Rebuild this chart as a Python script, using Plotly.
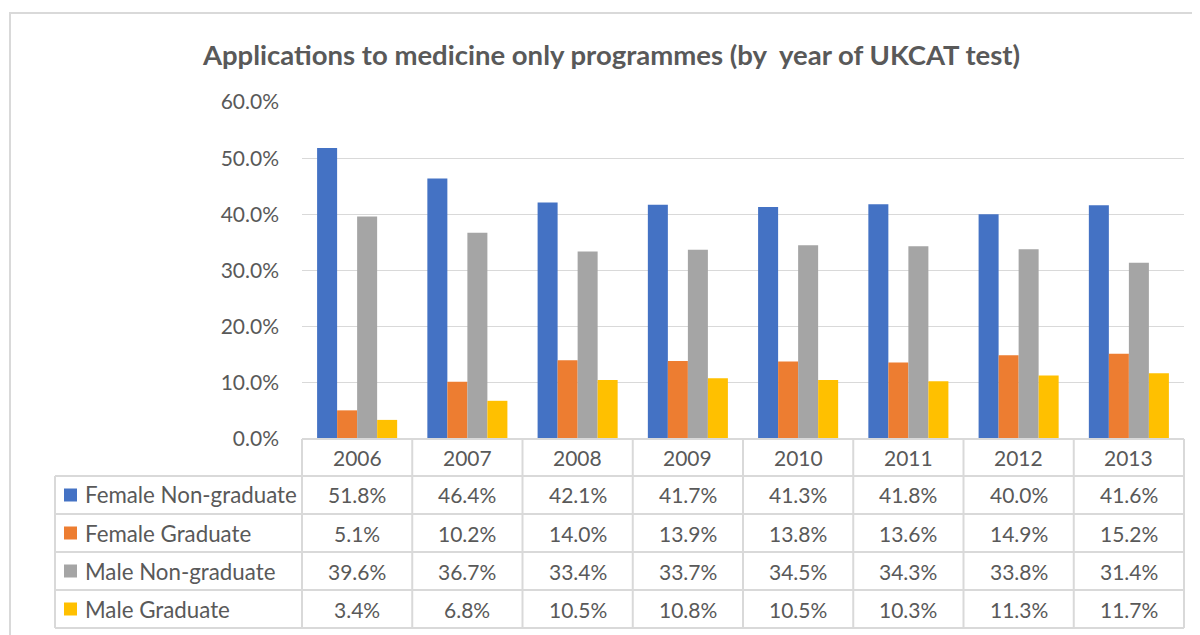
import plotly.graph_objects as go

years = ["2006", "2007", "2008", "2009", "2010", "2011", "2012", "2013"]
series_names = ["Female Non-graduate", "Female Graduate", "Male Non-graduate", "Male Graduate"]
female_nongrad = [51.8, 46.4, 42.1, 41.7, 41.3, 41.8, 40.0, 41.6]
female_grad = [5.1, 10.2, 14.0, 13.9, 13.8, 13.6, 14.9, 15.2]
male_nongrad = [39.6, 36.7, 33.4, 33.7, 34.5, 34.3, 33.8, 31.4]
male_grad = [3.4, 6.8, 10.5, 10.8, 10.5, 10.3, 11.3, 11.7]
colors = ["#4472C4", "#ED7D31", "#A5A5A5", "#FFC000"]
title_text = "Applications to medicine only programmes (by  year of UKCAT test)"

all_series = [female_nongrad, female_grad, male_nongrad, male_grad]

W, H = 1200, 635
OFF = 8  # page body margin
FONT = "Lato"
TXT = "#595959"
LINE = "#d9d9d9"
NUM_SIZE = 21
WORD_SIZE = 22.3

def px(x):
    return (x - OFF) / W

def py(y):
    return 1 - (y - OFF) / H

plot_left, plot_right = 302, 1184
plot_top, plot_bottom = 102, 439
row_edges = [439, 476, 514, 552, 590, 628]

fig = go.Figure()
for name, vals, c in zip(series_names, all_series, colors):
    fig.add_trace(go.Bar(x=years, y=[v / 100 for v in vals], name=name,
                         marker=dict(color=c, line=dict(width=0)), showlegend=False))

fig.update_layout(
    width=W, height=H,
    margin=dict(l=0, r=0, t=0, b=0, pad=0, autoexpand=False),
    paper_bgcolor="white", plot_bgcolor="white",
    barmode="group", bargap=0.274, bargroupgap=0,
    font=dict(family=FONT, color=TXT, size=NUM_SIZE),
    title=dict(text="<b>" + title_text + "</b>", x=px(611.5), xref="paper", xanchor="center",
               y=py(55), yref="paper", yanchor="middle", automargin=False,
               font=dict(family=FONT, size=27.5, color=TXT)),
    xaxis=dict(type="category", domain=[px(plot_left), px(plot_right)], showticklabels=False,
               range=[-0.5, len(years) - 0.5], autorange=False,
               showgrid=False, zeroline=False, showline=False, ticks="", automargin=False),
    yaxis=dict(domain=[py(plot_bottom), py(plot_top)], range=[0, 0.6], dtick=0.1,
               tickformat=".1%", showgrid=True, gridcolor=LINE, gridwidth=1,
               zeroline=False, showline=False, ticks="", ticklabelstandoff=22, automargin=False,
               tickfont=dict(family=FONT, size=NUM_SIZE, color=TXT)),
)

shapes = []
# outer chart border
shapes.append(dict(type="rect", xref="paper", yref="paper", x0=px(10), x1=px(1215),
                   y0=py(650), y1=py(13), line=dict(color=LINE, width=2)))
# table horizontal lines
shapes.append(dict(type="line", xref="paper", yref="paper", x0=px(plot_left), x1=px(plot_right),
                   y0=py(row_edges[0]), y1=py(row_edges[0]), line=dict(color=LINE, width=2)))
for y in row_edges[1:]:
    shapes.append(dict(type="line", xref="paper", yref="paper", x0=px(55), x1=px(plot_right),
                       y0=py(y), y1=py(y), line=dict(color=LINE, width=2)))
# vertical lines
shapes.append(dict(type="line", xref="paper", yref="paper", x0=px(55), x1=px(55),
                   y0=py(row_edges[1]), y1=py(row_edges[-1]), line=dict(color=LINE, width=2)))
colw = (plot_right - plot_left) / len(years)
for k in range(len(years) + 1):
    x = plot_left + k * colw
    shapes.append(dict(type="line", xref="paper", yref="paper", x0=px(x), x1=px(x),
                       y0=py(row_edges[0]), y1=py(row_edges[-1]), line=dict(color=LINE, width=2)))

annotations = []
for i, yr in enumerate(years):
    annotations.append(dict(x=i, xref="x", y=py((row_edges[0] + row_edges[1]) / 2), yref="paper",
                            text=yr, showarrow=False, xanchor="center", yanchor="middle",
                            font=dict(family=FONT, size=NUM_SIZE, color=TXT)))
for r, (name, vals, c) in enumerate(zip(series_names, all_series, colors)):
    yc = (row_edges[r + 1] + row_edges[r + 2]) / 2
    shapes.append(dict(type="rect", xref="paper", yref="paper", x0=px(64), x1=px(77),
                       y0=py(yc + 6.5), y1=py(yc - 6.5), fillcolor=c, line=dict(width=0)))
    annotations.append(dict(x=px(83), xref="paper", y=py(yc), yref="paper", text=name,
                            showarrow=False, xanchor="left", yanchor="middle",
                            font=dict(family=FONT, size=WORD_SIZE, color=TXT)))
    for i, v in enumerate(vals):
        annotations.append(dict(x=i, xref="x", y=py(yc), yref="paper", text=f"{v:.1f}%",
                                showarrow=False, xanchor="center", yanchor="middle",
                                font=dict(family=FONT, size=NUM_SIZE, color=TXT)))

fig.update_layout(shapes=shapes, annotations=annotations)
fig.write_html("out.html")
